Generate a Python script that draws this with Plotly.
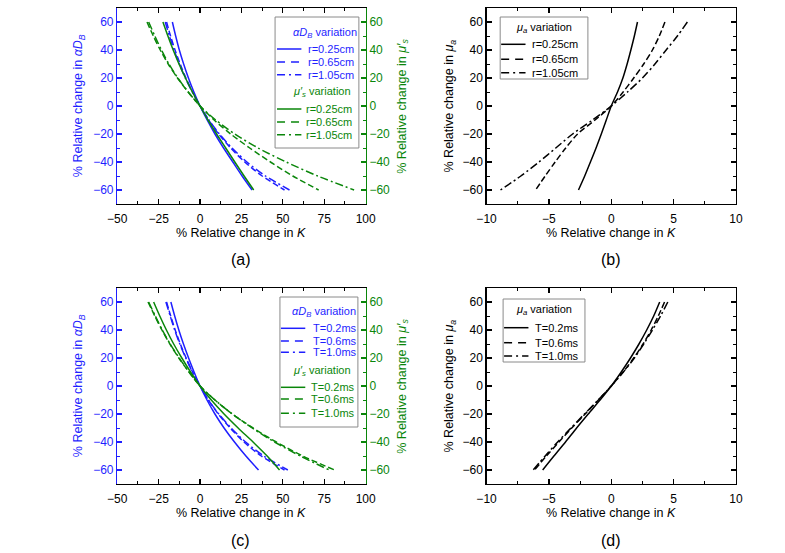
import plotly.graph_objects as go

W, H = 785, 553
BLUE = "#1f1fff"
GREEN = "#0a860a"
BLACK = "#000000"
FONT = "Liberation Sans, Arial, sans-serif"

# ---------------- data ----------------
Y_PCT = [60, 50, 40, 30, 20, 10, 0, -10, -20, -30, -40, -50, -60]

# (a) relative change in K (x) vs relative change in parameter (y), source-detector distance r
a_adb_r025 = [-16.7, -14.7, -12.5, -9.9, -7.0, -3.7, 0, 4.3, 9.0, 14.2, 19.8, 25.4, 31.4]
a_adb_r065 = [-20.2, -17.8, -15.1, -12.0, -8.5, -4.5, 0, 5.2, 11.2, 18.5, 27.0, 37.5, 51.0]
a_adb_r105 = [-21.0, -18.5, -15.7, -12.5, -8.9, -4.7, 0, 5.4, 11.7, 19.3, 28.3, 39.5, 54.0]
a_mus_r025 = [-22.4, -19.4, -16.2, -12.7, -8.8, -4.6, 0, 4.8, 10.0, 15.5, 21.0, 26.6, 32.4]
a_mus_r065 = [-32.0, -28.2, -24.0, -19.2, -13.6, -7.2, 0, 8.5, 18.5, 30.0, 42.5, 56.0, 71.6]
a_mus_r105 = [-31.0, -27.3, -23.3, -18.8, -13.4, -7.1, 0, 9.5, 21.0, 35.0, 52.0, 71.0, 93.0]

# (b) mu_a variation, r
b_mua_r025 = [2.10, 1.85, 1.57, 1.27, 0.93, 0.50, 0, -0.40, -0.80, -1.22, -1.67, -2.13, -2.63]
b_mua_r065 = [4.30, 3.85, 3.30, 2.60, 1.80, 0.95, 0, -1.30, -2.70, -3.65, -4.50, -5.30, -6.07]
b_mua_r105 = [6.10, 5.30, 4.40, 3.50, 2.50, 1.30, 0, -1.50, -3.10, -4.45, -5.80, -7.25, -8.88]

# (c) exposure time T
c_adb_T02 = [-17.6, -15.3, -12.8, -10.0, -6.9, -3.6, 0, 4.2, 9.0, 14.5, 20.8, 27.7, 35.3]
c_adb_T06 = [-20.2, -17.7, -15.0, -11.9, -8.4, -4.5, 0, 5.0, 11.0, 18.2, 26.5, 37.0, 51.0]
c_adb_T10 = [-20.6, -18.0, -15.3, -12.2, -8.6, -4.6, 0, 5.1, 11.3, 18.8, 27.5, 38.5, 53.0]
c_mus_T02 = [-28.0, -24.3, -20.3, -15.9, -11.0, -5.7, 0, 6.8, 14.5, 23.0, 32.0, 40.5, 48.0]
c_mus_T06 = [-31.4, -27.3, -23.0, -18.2, -12.8, -6.7, 0, 9.0, 19.5, 32.0, 46.0, 62.0, 81.2]
c_mus_T10 = [-31.0, -27.0, -22.8, -18.0, -12.6, -6.6, 0, 9.0, 19.5, 31.5, 45.0, 60.5, 78.0]

# (d) mu_a variation, T
d_mua_T02 = [3.88, 3.40, 2.84, 2.22, 1.54, 0.80, 0, -0.90, -1.85, -2.78, -3.67, -4.60, -5.50]
d_mua_T06 = [4.27, 3.77, 3.20, 2.55, 1.80, 0.95, 0, -1.03, -2.10, -3.17, -4.20, -5.20, -6.15]
d_mua_T10 = [4.53, 3.95, 3.30, 2.60, 1.85, 0.97, 0, -1.05, -2.15, -3.23, -4.30, -5.30, -6.27]

R_LABELS = ["r=0.25cm", "r=0.65cm", "r=1.05cm"]
T_LABELS = ["T=0.2ms", "T=0.6ms", "T=1.0ms"]
ADB_TITLE = "<i>αD</i><sub><i>B</i></sub> variation"
MUS_TITLE = "<i>μ′</i><sub><i>s</i></sub> variation"
MUA_TITLE = "<i>μ</i><sub><i>a</i></sub> variation"

# ---------------- styles ----------------
DASH_LINE = ["solid", "6px,3px", "8px,3px,2px,3px"]
DASH_LEG = ["solid", "8px,6px", "8px,4px,2px,4px"]
LW = 1.5


def px(x):
    return x / W


def py(y):
    return 1 - y / H


fig = go.Figure()


def add_set(xs_list, color, xaxis, yaxis):
    for xs, dash in zip(xs_list, DASH_LINE):
        fig.add_trace(go.Scatter(
            x=xs, y=Y_PCT, mode="lines", xaxis=xaxis, yaxis=yaxis,
            line=dict(color=color, width=LW, dash=dash, shape="spline", smoothing=0.8),
            showlegend=False, hoverinfo="skip"))


add_set([a_adb_r025, a_adb_r065, a_adb_r105], BLUE, "x", "y")
add_set([a_mus_r025, a_mus_r065, a_mus_r105], GREEN, "x", "y2")
add_set([b_mua_r025, b_mua_r065, b_mua_r105], BLACK, "x2", "y3")
add_set([c_adb_T02, c_adb_T06, c_adb_T10], BLUE, "x3", "y4")
add_set([c_mus_T02, c_mus_T06, c_mus_T10], GREEN, "x3", "y5")
add_set([d_mua_T02, d_mua_T06, d_mua_T10], BLACK, "x4", "y6")

TOP = (8, 204)
BOT = (288, 484)
LEFTX = (110, 365)
RIGHTX = (489, 745)


def xax(dom, rng, dtick, anchor):
    return dict(domain=[px(dom[0]), px(dom[1])], range=rng, anchor=anchor,
                showline=True, linecolor=BLACK, linewidth=1.3, mirror="ticks",
                ticks="inside", ticklen=5, tickwidth=1.2, tickcolor=BLACK,
                tick0=0, dtick=dtick,
                minor=dict(dtick=dtick / 2, ticks="inside", ticklen=3, tickwidth=1, tickcolor=BLACK),
                tickfont=dict(family=FONT, size=12, color=BLACK),
                ticklabelstandoff=3,
                showgrid=False, zeroline=False, fixedrange=True)


def yax(dom, anchor, color, mirror, side="left", overlaying=None):
    d = dict(domain=[py(dom[1]), py(dom[0])], range=[-70, 70], anchor=anchor, side=side,
             showline=True, linecolor=color, linewidth=1.3, mirror=mirror,
             ticks="inside", ticklen=5, tickwidth=1.2, tickcolor=color,
             tick0=0, dtick=20,
             minor=dict(dtick=10, ticks="inside", ticklen=3, tickwidth=1, tickcolor=color),
             tickfont=dict(family=FONT, size=12, color=color),
             showgrid=False, zeroline=False, fixedrange=True)
    if overlaying:
        d["overlaying"] = overlaying
    return d


fig.update_layout(
    width=W, height=H, margin=dict(l=0, r=0, t=0, b=0),
    paper_bgcolor="white", plot_bgcolor="white", showlegend=False,
    font=dict(family=FONT, size=12, color=BLACK),
    xaxis=xax(LEFTX, [-50, 100], 25, "y"),
    yaxis=yax(TOP, "x", BLUE, False),
    yaxis2=yax(TOP, "x", GREEN, False, side="right", overlaying="y"),
    xaxis2=xax(RIGHTX, [-10, 10], 5, "y3"),
    yaxis3=yax(TOP, "x2", BLACK, "ticks"),
    xaxis3=xax(LEFTX, [-50, 100], 25, "y4"),
    yaxis4=yax(BOT, "x3", BLUE, False),
    yaxis5=yax(BOT, "x3", GREEN, False, side="right", overlaying="y4"),
    xaxis4=xax(RIGHTX, [-10, 10], 5, "y6"),
    yaxis6=yax(BOT, "x4", BLACK, "ticks"),
)

shapes = []
annots = []


def text(x, y, s, color=BLACK, size=12, xanchor="center", angle=0):
    annots.append(dict(x=px(x), y=py(y), xref="paper", yref="paper", text=s, showarrow=False,
                       xanchor=xanchor, yanchor="middle", textangle=angle,
                       font=dict(family=FONT, size=size, color=color)))


K_TITLE = "% Relative change in <i>K</i>"
# axis titles
for (cx, cy) in [(237, 233), (617, 233), (237, 513), (617, 513)]:
    text(cx, cy, K_TITLE, size=12.5)
text(71, 106, "% Relative change in <i>αD</i><sub><i>B</i></sub>", BLUE, 12.5, angle=-90)
text(71, 386, "% Relative change in <i>αD</i><sub><i>B</i></sub>", BLUE, 12.5, angle=-90)
text(403, 106, "% Relative change in <i>μ′</i><sub><i>s</i></sub>", GREEN, 12.5, angle=-90)
text(403, 386, "% Relative change in <i>μ′</i><sub><i>s</i></sub>", GREEN, 12.5, angle=-90)
text(452, 106, "% Relative change in <i>μ</i><sub><i>a</i></sub>", BLACK, 12.5, angle=-90)
text(452, 386, "% Relative change in <i>μ</i><sub><i>a</i></sub>", BLACK, 12.5, angle=-90)
# panel labels
for lab, (cx, cy) in zip(["(a)", "(b)", "(c)", "(d)"], [(237, 259), (617, 259), (237, 540), (617, 540)]):
    text(cx, cy, lab, size=16)


def legend_box(x0, y0, x1, y1):
    shapes.append(dict(type="rect", xref="paper", yref="paper", x0=px(x0), x1=px(x1),
                       y0=py(y1), y1=py(y0), fillcolor="white",
                       line=dict(color="#8a8a8a", width=1), layer="above"))


def legend_rows(rows_y, labels, color, lx0, lx1, tx):
    for yy, lab, dash in zip(rows_y, labels, DASH_LEG):
        shapes.append(dict(type="line", xref="paper", yref="paper", x0=px(lx0), x1=px(lx1),
                           y0=py(yy), y1=py(yy), line=dict(color=color, width=LW, dash=dash),
                           layer="above"))
        text(tx, yy, lab, color, 11, xanchor="left")


# legend (a)
legend_box(272, 17, 358, 148)
text(323, 33, ADB_TITLE, BLUE, 11)
legend_rows([49, 62, 74.7], R_LABELS, BLUE, 274, 299, 304)
text(320, 92, MUS_TITLE, GREEN, 11)
legend_rows([109, 122, 134.7], R_LABELS, GREEN, 274, 299, 302)

# legend (b)
legend_box(503, 17, 593, 79)
text(548, 27.5, MUA_TITLE, BLACK, 11)
legend_rows([44.3, 59.3, 72.7], R_LABELS, BLACK, 504, 529, 534)

# legend (c)
legend_box(277, 297, 357, 427)
text(322, 311.7, ADB_TITLE, BLUE, 11)
legend_rows([328.3, 341, 352.3], T_LABELS, BLUE, 278, 303, 309)
text(320, 370.7, MUS_TITLE, GREEN, 11)
legend_rows([387.3, 399, 413.3], T_LABELS, GREEN, 278, 303, 307)

# legend (d)
legend_box(506, 299, 590, 362)
text(548, 310, MUA_TITLE, BLACK, 11)
legend_rows([327.7, 342.7, 356], T_LABELS, BLACK, 507, 532, 537)

fig.update_layout(shapes=shapes, annotations=annots)

fig.write_html("out.html", config={"displayModeBar": False, "staticPlot": True},
               post_script="document.body.style.margin='0';document.body.style.overflow='hidden';")
